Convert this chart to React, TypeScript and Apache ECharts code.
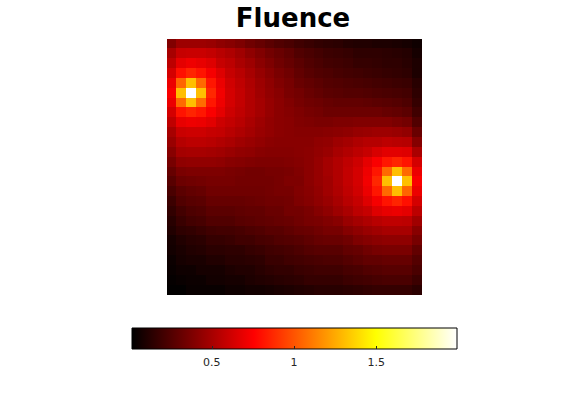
import React, { useEffect, useRef } from "react";
import * as echarts from "echarts";

const chartTitle = "Fluence";

// colour-bar range and ticks
const fluenceMin = 0.015;
const fluenceMax = 1.99;
const colorbarTicks = [0.5, 1, 1.5];

// MATLAB "hot" colormap sampled at 9 evenly spaced stops
const hotColors = [
  "#000000", "#550000", "#aa0000", "#ff0000", "#ff5500",
  "#ffaa00", "#ffff00", "#ffff80", "#ffffff",
];

// fluence map, 26 x 26 cells, row00 = top row
const row00 = [0.39,0.47,0.47,0.47,0.46,0.43,0.41,0.38,0.34,0.31,0.28,0.25,0.23,0.20,0.18,0.16,0.15,0.14,0.12,0.11,0.11,0.10,0.10,0.09,0.08,0.06];
const row01 = [0.50,0.59,0.60,0.60,0.58,0.55,0.52,0.48,0.43,0.39,0.35,0.32,0.29,0.25,0.23,0.21,0.19,0.18,0.17,0.15,0.15,0.15,0.14,0.13,0.12,0.08];
const row02 = [0.56,0.68,0.71,0.69,0.66,0.59,0.56,0.51,0.47,0.42,0.38,0.34,0.31,0.28,0.25,0.23,0.21,0.20,0.19,0.17,0.17,0.16,0.15,0.15,0.13,0.10];
const row03 = [0.63,0.80,0.86,0.81,0.73,0.66,0.59,0.55,0.50,0.45,0.41,0.37,0.34,0.30,0.27,0.25,0.24,0.22,0.21,0.20,0.19,0.18,0.17,0.16,0.15,0.10];
const row04 = [0.70,1.05,1.31,1.06,0.82,0.70,0.62,0.57,0.52,0.47,0.43,0.39,0.36,0.32,0.30,0.28,0.26,0.25,0.24,0.23,0.22,0.21,0.20,0.19,0.18,0.13];
const row05 = [0.74,1.31,1.99,1.31,0.87,0.72,0.63,0.58,0.53,0.48,0.44,0.41,0.37,0.35,0.32,0.30,0.28,0.27,0.26,0.26,0.25,0.24,0.23,0.22,0.21,0.15];
const row06 = [0.70,1.06,1.31,1.07,0.82,0.71,0.63,0.58,0.53,0.49,0.45,0.42,0.39,0.36,0.34,0.33,0.31,0.30,0.30,0.30,0.29,0.28,0.27,0.26,0.24,0.17];
const row07 = [0.63,0.81,0.86,0.82,0.74,0.68,0.61,0.57,0.53,0.49,0.45,0.42,0.40,0.38,0.36,0.35,0.33,0.33,0.33,0.33,0.33,0.33,0.31,0.30,0.28,0.20];
const row08 = [0.57,0.69,0.71,0.70,0.67,0.61,0.58,0.55,0.51,0.47,0.44,0.42,0.41,0.39,0.38,0.37,0.37,0.38,0.38,0.39,0.39,0.39,0.39,0.37,0.35,0.25];
const row09 = [0.50,0.60,0.61,0.61,0.59,0.58,0.55,0.52,0.49,0.46,0.44,0.42,0.41,0.40,0.40,0.40,0.41,0.42,0.43,0.45,0.46,0.47,0.47,0.46,0.44,0.32];
const row10 = [0.46,0.54,0.56,0.56,0.55,0.53,0.51,0.48,0.46,0.44,0.42,0.41,0.41,0.41,0.41,0.43,0.44,0.47,0.49,0.52,0.54,0.54,0.56,0.55,0.54,0.40];
const row11 = [0.41,0.49,0.50,0.50,0.49,0.48,0.46,0.44,0.43,0.41,0.40,0.40,0.40,0.41,0.42,0.44,0.46,0.50,0.53,0.56,0.59,0.64,0.67,0.67,0.66,0.51];
const row12 = [0.36,0.43,0.44,0.44,0.44,0.43,0.41,0.40,0.39,0.38,0.38,0.38,0.39,0.40,0.42,0.45,0.49,0.53,0.57,0.61,0.68,0.74,0.82,0.86,0.81,0.63];
const row13 = [0.31,0.37,0.38,0.38,0.38,0.38,0.37,0.36,0.35,0.35,0.36,0.36,0.37,0.39,0.42,0.45,0.49,0.53,0.58,0.63,0.71,0.82,1.06,1.31,1.06,0.70];
const row14 = [0.27,0.33,0.34,0.35,0.36,0.36,0.36,0.35,0.35,0.35,0.35,0.36,0.38,0.38,0.42,0.45,0.48,0.53,0.58,0.63,0.72,0.87,1.31,1.99,1.31,0.74];
const row15 = [0.23,0.28,0.30,0.31,0.34,0.34,0.34,0.34,0.34,0.34,0.35,0.36,0.36,0.39,0.41,0.44,0.48,0.52,0.57,0.62,0.70,0.82,1.06,1.31,1.05,0.70];
const row16 = [0.19,0.25,0.27,0.28,0.31,0.31,0.31,0.31,0.32,0.33,0.34,0.34,0.35,0.38,0.40,0.43,0.46,0.50,0.55,0.59,0.66,0.73,0.81,0.86,0.80,0.63];
const row17 = [0.16,0.21,0.24,0.25,0.28,0.28,0.28,0.29,0.30,0.30,0.32,0.32,0.35,0.35,0.37,0.40,0.43,0.47,0.51,0.56,0.59,0.66,0.69,0.70,0.68,0.56];
const row18 = [0.13,0.18,0.21,0.22,0.25,0.25,0.25,0.27,0.28,0.29,0.30,0.31,0.32,0.34,0.36,0.37,0.39,0.41,0.46,0.49,0.52,0.55,0.57,0.57,0.56,0.48];
const row19 = [0.11,0.15,0.16,0.18,0.20,0.21,0.21,0.22,0.24,0.25,0.27,0.27,0.29,0.31,0.32,0.34,0.36,0.36,0.40,0.43,0.46,0.48,0.50,0.50,0.50,0.41];
const row20 = [0.08,0.11,0.13,0.14,0.17,0.17,0.18,0.20,0.20,0.22,0.23,0.25,0.26,0.27,0.29,0.31,0.32,0.32,0.34,0.38,0.40,0.42,0.43,0.43,0.43,0.36];
const row21 = [0.07,0.09,0.11,0.12,0.14,0.14,0.15,0.15,0.17,0.18,0.20,0.21,0.22,0.24,0.26,0.27,0.27,0.27,0.30,0.31,0.34,0.36,0.37,0.37,0.37,0.30];
const row22 = [0.05,0.08,0.09,0.09,0.11,0.11,0.13,0.13,0.14,0.15,0.18,0.18,0.20,0.21,0.22,0.23,0.24,0.24,0.26,0.28,0.30,0.30,0.31,0.31,0.31,0.26];
const row23 = [0.04,0.06,0.06,0.08,0.08,0.08,0.10,0.11,0.11,0.13,0.15,0.16,0.16,0.18,0.19,0.20,0.20,0.20,0.22,0.23,0.25,0.26,0.27,0.27,0.27,0.23];
const row24 = [0.03,0.04,0.05,0.05,0.07,0.07,0.08,0.08,0.10,0.11,0.12,0.13,0.14,0.15,0.17,0.17,0.17,0.17,0.19,0.20,0.21,0.22,0.23,0.23,0.23,0.19];
const row25 = [0.02,0.02,0.04,0.04,0.04,0.04,0.06,0.06,0.07,0.07,0.08,0.09,0.10,0.11,0.12,0.13,0.13,0.13,0.14,0.15,0.16,0.17,0.17,0.17,0.17,0.14];

const fluenceRows = [
  row00, row01, row02, row03, row04, row05, row06, row07, row08, row09,
  row10, row11, row12, row13, row14, row15, row16, row17, row18, row19,
  row20, row21, row22, row23, row24, row25,
];

const xCats = row00.map((_, i) => String(i));
const yCats = fluenceRows.map((_, i) => String(i));

const FONT = '"DejaVu Sans", "Liberation Sans", sans-serif';

export default function App() {
  const ref = useRef<HTMLDivElement>(null);

  useEffect(() => {
    document.body.style.margin = "0";
    if (!ref.current) return;
    const chart = echarts.init(ref.current, null, { renderer: "svg" });

    const heatData: number[][] = [];
    fluenceRows.forEach((row, r) => row.forEach((v, c) => heatData.push([c, r, v])));

    const gradStops = hotColors.map((color, i) => ({
      offset: i / (hotColors.length - 1),
      color,
    }));

    chart.setOption({
      animation: false,
      backgroundColor: "#ffffff",
      grid: [
        { left: 167, top: 39, width: 255, height: 256, show: false },
        { left: 132, top: 328, width: 325, height: 21, show: false },
      ],
      xAxis: [
        { type: "category", data: xCats, gridIndex: 0, show: false },
        {
          type: "value",
          gridIndex: 1,
          min: fluenceMin,
          max: fluenceMax,
          position: "bottom",
          axisLine: { show: false },
          splitLine: { show: false },
          axisTick: {
            show: true,
            inside: true,
            length: 3,
            lineStyle: { color: "#262626", width: 1 },
            customValues: colorbarTicks,
          },
          axisLabel: {
            customValues: colorbarTicks,
            fontFamily: FONT,
            fontSize: 11,
            color: "#262626",
            margin: 8,
          },
        },
      ],
      yAxis: [
        { type: "category", data: yCats, gridIndex: 0, show: false, inverse: true },
        { type: "value", gridIndex: 1, show: false, min: 0, max: 1 },
      ],
      visualMap: {
        show: false,
        type: "continuous",
        min: fluenceMin,
        max: fluenceMax,
        dimension: 2,
        seriesIndex: 0,
        inRange: { color: hotColors },
      },
      series: [
        {
          type: "custom",
          xAxisIndex: 0,
          yAxisIndex: 0,
          dimensions: ["col", "row", "fluence"],
          encode: { x: 0, y: 1 },
          data: heatData,
          progressive: 0,
          silent: true,
          renderItem: (params: any, api: any) => {
            const p = api.coord([api.value(0), api.value(1)]);
            const s = api.size([1, 1]);
            const cs = params.coordSys;
            const x0 = Math.max(cs.x, Math.floor(p[0] - s[0] / 2));
            const x1 = Math.min(cs.x + cs.width, Math.ceil(p[0] + s[0] / 2) + 0.5);
            const y0 = Math.max(cs.y, Math.floor(p[1] - s[1] / 2));
            const y1 = Math.min(cs.y + cs.height, Math.ceil(p[1] + s[1] / 2) + 0.5);
            return {
              type: "rect",
              shape: { x: x0, y: y0, width: x1 - x0, height: y1 - y0 },
              style: { fill: api.visual("color"), stroke: null },
            };
          },
        },
      ],
      graphic: [
        {
          type: "text",
          x: 293,
          y: 17.5,
          style: {
            text: chartTitle,
            textAlign: "center",
            textVerticalAlign: "middle",
            font: `bold 26px ${FONT}`,
            fill: "#000000",
          },
        },
        {
          type: "rect",
          z: -1,
          shape: { x: 132, y: 328, width: 325, height: 21 },
          style: {
            fill: { type: "linear", x: 0, y: 0, x2: 1, y2: 0, colorStops: gradStops },
            stroke: "#000000",
            lineWidth: 1,
          },
        },
      ],
    });

    return () => chart.dispose();
  }, []);

  return <div ref={ref} style={{ width: 570, height: 413 }} />;
}
